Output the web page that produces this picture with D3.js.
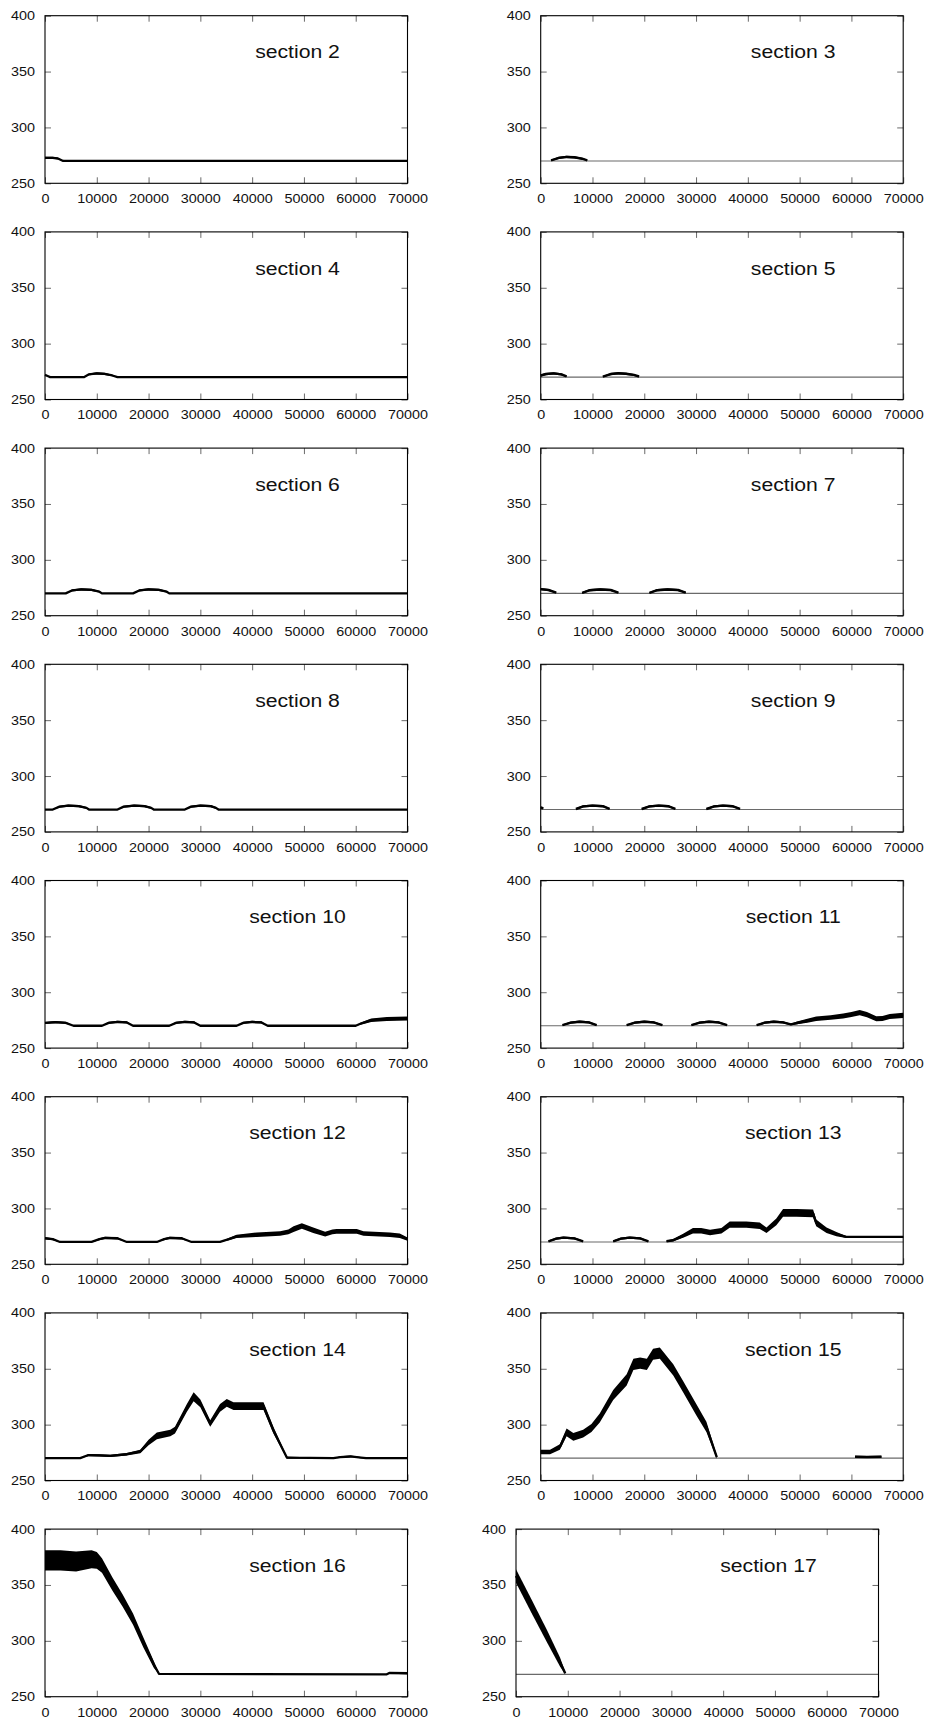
<!DOCTYPE html>
<html>
<head>
<meta charset="utf-8">
<script src="https://cdn.jsdelivr.net/npm/d3@7"></script>
<style>
  html, body { margin: 0; padding: 0; background: #fff; }
  svg { display: block; }
</style>
</head>
<body>
<script>
// ---- data: each point is [x, mean value, half band width]; null breaks a segment ----
const sectionNames = ["section 2","section 3","section 4","section 5","section 6","section 7","section 8","section 9",
  "section 10","section 11","section 12","section 13","section 14","section 15","section 16","section 17"];
const xTicks = [0,10000,20000,30000,40000,50000,60000,70000];
const yTicks = [250,300,350,400];
const baseline = 270;

const s2 = [[0,272.8,0.9],[1500,272.8,0.9],[2500,272.2,0.7],[3500,270,0],[70000,270,0]];
const s3 = [[2000,270.5,0.6],[3500,272.8,1],[5000,273.6,1],[6500,273.3,1],[8000,272,0.8],[9000,270.6,0.5]];
const s4 = [[0,272,0.6],[500,271,0.3],[1000,270,0],[7500,270,0],[8500,272.5,0.8],[10000,273.3,1],[11500,273,1],[13000,271.5,0.7],[14000,270,0],[70000,270,0]];
const s5 = [[0,271.5,0.9],[1000,272.8,1],[2500,273.4,1],[4000,272.5,1],[5000,270.6,0.5],null,
  [12000,270.5,0.6],[13500,272.8,1],[15000,273.5,1],[16500,273,1],[18000,272,0.9],[19000,270.6,0.5]];
const s6 = [[0,270,0],[4000,270,0],[5200,272.6,0.9],[7000,273.5,1],[9000,273.1,1],[10500,271.5,0.7],[11000,270,0],
  [17000,270,0],[18200,272.6,0.9],[20000,273.5,1],[22000,273.1,1],[23500,271.5,0.7],[24000,270,0],[70000,270,0]];
const s7 = [[0,273.8,1],[1500,273,1],[3000,270.6,0.5],null,
  [8000,270.5,0.6],[9500,272.8,1],[11500,273.5,1],[13500,273,1],[15000,270.6,0.5],null,
  [21000,270.5,0.6],[22500,272.8,1],[24500,273.5,1],[26500,273,1],[28000,270.6,0.5]];
const s8 = [[0,270,0],[1500,270,0],[2800,272.6,0.9],[4500,273.5,1],[6500,273.1,1],[8000,271.5,0.7],[8500,270,0],
  [14000,270,0],[15200,272.6,0.9],[17200,273.5,1],[19200,273.1,1],[20500,271.5,0.7],[21000,270,0],
  [27000,270,0],[28200,272.6,0.9],[30000,273.5,1],[32000,273.1,1],[33000,271.5,0.7],[33500,270,0],[70000,270,0]];
const s9 = [[0,272,0.7],[500,271,0.4],null,
  [6800,270.5,0.6],[8200,272.8,1],[10000,273.5,1],[12000,273,1],[13300,270.6,0.5],null,
  [19500,270.5,0.6],[21000,272.8,1],[22800,273.5,1],[24600,273,1],[26000,270.6,0.5],null,
  [32000,270.5,0.6],[33500,272.8,1],[35200,273.5,1],[37000,273,1],[38500,270.6,0.5]];
const s10 = [[0,272.5,0.9],[2000,273.3,1],[4000,272.6,0.9],[5500,270,0],[11000,270,0],[12300,272.6,0.9],[14000,273.4,1],[15800,273,1],[17000,270,0],
  [24000,270,0],[25300,272.6,0.9],[27000,273.4,1],[28800,273,1],[30000,270,0],
  [37000,270,0],[38300,272.6,0.9],[40000,273.4,1],[41800,273,1],[43000,270,0],
  [60000,270,0],[61000,272,1],[63000,275,1.6],[66000,276,1.8],[70000,276.5,1.8]];
const s11 = [[4200,270.6,0.6],[5800,272.8,1],[7500,273.6,1],[9300,273,1],[10800,270.6,0.5],null,
  [16600,270.6,0.6],[18200,272.8,1],[20000,273.6,1],[21800,273,1],[23500,270.6,0.5],null,
  [29100,270.6,0.6],[30700,272.8,1],[32500,273.6,1],[34300,273,1],[36000,270.6,0.5],null,
  [41700,270.6,0.6],[43300,272.8,1],[45000,273.6,1],[46800,273,1],[48300,271.2,0.7],[49500,272.5,1.2],
  [51500,274.5,1.8],[53200,276.3,2],[56000,277.3,2],[58400,278.7,2.2],[60000,280,2.2],[61600,281.8,2.4],
  [63000,280,2.4],[64800,276.2,2.2],[66000,276.5,2.2],[67400,278.3,2.3],[70000,279.3,2.3]];
const s12 = [[0,273.3,0.9],[1500,272.5,0.9],[2900,270,0],[9000,270,0],[10500,272.5,0.9],[11600,273.6,1],[14000,273.3,1],[15800,270,0],
  [21600,270,0],[23000,272.5,0.9],[24100,273.6,1],[26400,273.3,1],[28300,270,0],[33800,270,0],[35500,272.5,1],
  [37000,275,1.5],[40900,276.5,2],[45400,277.5,2],[47000,279,2.2],[48000,281.5,2.5],[49600,284.3,2.5],[51800,280.5,2.5],
  [54100,277,2.2],[55500,279,2.2],[56300,279.5,2.2],[60200,279.5,2.2],[61500,277.5,2],[66600,276.5,2],[68500,275.5,2],[70000,272.5,1.5]];
const s13 = [[1500,270.6,0.6],[3000,273,1],[4400,273.9,1],[6500,273.2,1],[8200,270.6,0.5],null,
  [14000,270.6,0.6],[15500,273,1],[17200,273.9,1],[19200,273.2,1],[20800,270.6,0.5],null,
  [24300,270.6,0.6],[25500,271.5,1],[27500,275.5,1.8],[29400,280,2.5],[31000,280,2.5],[32700,278.5,2.5],[34900,280,2.5],
  [36500,285.5,2.8],[39700,285.5,2.8],[42300,284.5,2.8],[43600,280.5,2.5],[45500,288,3],[46800,296,3.5],[49400,296,3.5],
  [52600,295.5,3.5],[53200,287,3],[55200,280.5,2.5],[57100,277,2],[59000,274.5,0.9],[70000,274.5,0.9]];
const s14 = [[0,270,0],[6800,270,0],[8400,272.8,1],[10500,272.5,1],[12600,272,1],[15800,273.5,1.2],[18400,276,1.5],
  [20000,284,2.5],[21600,290,3],[24200,292.5,3],[25100,295,3],[27400,315,3.5],[28700,325,4],[30000,319,3.5],[31900,301,3],
  [33800,315,3.5],[35100,319.5,3.5],[36400,316.5,3.5],[40200,316.5,3.5],[42200,316.5,3.5],[44100,295,3],[46700,270.5,1],
  [55700,270,0],[57000,271,0.8],[59000,271.5,0.8],[61000,270.5,0.5],[62000,270,0],[70000,270,0]];
const s15 = [[0,275.5,2],[1800,275.5,2],[3700,280,2.5],[5000,293,3.5],[6300,289,3.5],[8200,292,3.5],[9800,297,3.5],
  [11400,306,4],[14000,326.5,4.5],[16600,340,5],[17900,354,5],[19200,355,5],[20500,354,5],[21700,363,5],[23000,364,5],
  [25600,349,5],[27500,334,5],[30100,313,5],[32000,298,4.5],[34000,271,1.5],null,
  [60700,271.2,0.9],[63000,271,0.9],[65800,271.2,0.9]];
const s16 = [[0,372,9],[3000,372,9],[6000,371,9],[9000,373,8],[10000,372,7.5],[11000,367.5,6.5],[13000,351,6],
  [15000,336,5.5],[17000,319.5,5],[19000,298.5,4.5],[21000,279,3],[22000,270.5,0.5],[66000,270,0],[66500,271.3,0.9],[70000,271,0.9]];
const s17 = [[0,358,6],[3000,331,6],[6000,304,5.5],[8500,281,4],[9500,271,1]];

const sectionData = [s2,s3,s4,s5,s6,s7,s8,s9,s10,s11,s12,s13,s14,s15,s16,s17];

// ---- layout ----
const W = 931, H = 1720;
const pw = 362.5, ph = 167.6;
const rowTop0 = 15.7, rowStep = 216.2;
const colLeft = [45, 540.7], lastRowRight = 516;
const FONT = "'Liberation Sans', Arial, Helvetica, sans-serif";

const svg = d3.select("body").append("svg").attr("width", W).attr("height", H);

const x = d3.scaleLinear().domain([0, 70000]).range([0, pw]);
const y = d3.scaleLinear().domain([250, 400]).range([ph, 0]);

const line = d3.line().defined(d => d !== null).x(d => x(d[0])).y(d => y(d[1]));
const area = d3.area().defined(d => d !== null).x(d => x(d[0]))
  .y0(d => y(d[1] - d[2])).y1(d => y(d[1] + d[2]));

sectionData.forEach((data, i) => {
  const row = Math.floor(i / 2), col = i % 2;
  const left = col === 0 ? colLeft[0] : (row === 7 ? lastRowRight : colLeft[1]);
  const top = rowTop0 + row * rowStep;
  const g = svg.append("g").attr("transform", `translate(${left},${top})`);

  const styleTicks = sel => {
    sel.select(".domain").remove();
    sel.selectAll(".tick line").attr("stroke", "#6a6a6a").attr("stroke-width", 1);
    sel.selectAll("text").attr("font-family", FONT).attr("font-size", 12.5).attr("fill", "#111");
  };
  const gb = g.append("g").attr("transform", `translate(0,${ph})`)
    .call(d3.axisBottom(x).tickValues(xTicks).tickFormat(d3.format("d")).tickSizeInner(-6).tickSizeOuter(0).tickPadding(11));
  styleTicks(gb);
  gb.selectAll("text").attr("transform", "scale(1.15,1)");
  const gt = g.append("g").call(d3.axisTop(x).tickValues(xTicks).tickFormat("").tickSizeInner(-6).tickSizeOuter(0));
  styleTicks(gt);
  const gl = g.append("g")
    .call(d3.axisLeft(y).tickValues(yTicks).tickFormat(d3.format("d")).tickSizeInner(-6).tickSizeOuter(0).tickPadding(10));
  styleTicks(gl);
  gl.selectAll("text").attr("x", -10 / 1.15).attr("transform", "scale(1.15,1)");
  const gr = g.append("g").attr("transform", `translate(${pw},0)`)
    .call(d3.axisRight(y).tickValues(yTicks).tickFormat("").tickSizeInner(-6).tickSizeOuter(0));
  styleTicks(gr);

  if (col === 1) {
    g.append("line").attr("x1", x(0)).attr("x2", x(70000))
      .attr("y1", y(baseline)).attr("y2", y(baseline))
      .attr("stroke", "#6a6a6a").attr("stroke-width", 1.1);
  }

  g.append("path").datum(data).attr("d", area).attr("fill", "#000");
  g.append("path").datum(data).attr("d", line).attr("fill", "none")
    .attr("stroke", "#000").attr("stroke-width", col === 0 ? 2.3 : 2.4).attr("stroke-linejoin", "round");

  g.append("rect").attr("x", 0).attr("y", 0).attr("width", pw).attr("height", ph)
    .attr("fill", "none").attr("stroke", "#000").attr("stroke-width", 1.1);

  g.append("text").attr("transform", `translate(252.5,42.7) scale(1.19,1)`)
    .attr("text-anchor", "middle").attr("font-family", FONT).attr("font-size", 17.8).attr("fill", "#111")
    .text(sectionNames[i]);
});
</script>
</body>
</html>
